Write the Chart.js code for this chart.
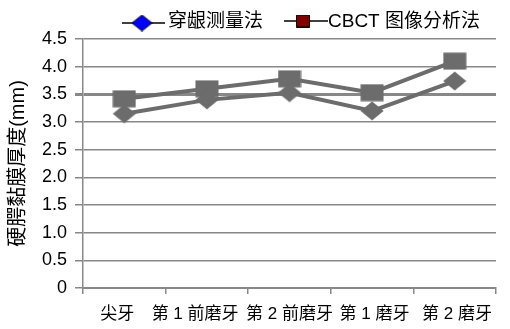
<!DOCTYPE html>
<html>
<head>
<meta charset="utf-8">
<script src="https://cdn.jsdelivr.net/npm/chart.js@4/dist/chart.umd.min.js"></script>
<style>
  html, body { margin: 0; padding: 0; background: #fff; }
  #wrap { width: 510px; height: 329px; }
</style>
</head>
<body>
<div id="wrap"><canvas id="grafico"></canvas></div>
<script>
// datos del grafico
const categorias = ["尖牙", "第 1 前磨牙", "第 2 前磨牙", "第 1 磨牙", "第 2 磨牙"];
const nombres = ["穿龈测量法", "CBCT 图像分析法"];
const valoresSonda = [3.15, 3.40, 3.53, 3.20, 3.74];
const valoresCbct = [3.42, 3.60, 3.78, 3.53, 4.10];
const ticksY = [0, 0.5, 1.0, 1.5, 2.0, 2.5, 3.0, 3.5, 4.0, 4.5];
const tituloY = "硬腭黏膜厚度(mm)";

const fuente = "'Liberation Sans', 'Noto Sans CJK SC', sans-serif";
const gris = "#6c6c6c";

// espacios para imitar el reparto de etiquetas del original
function etiqueta(texto, i) {
  if (i === 0) return texto + "   ";
  if (i === 1) return texto + "     ";
  if (i >= 3) return " " + texto;
  return texto;
}

// marcadores como imagen (mas anchos que altos, como en el original)
function marcador(tipo, ancho, alto, relleno, borde) {
  const c = document.createElement("canvas");
  c.width = ancho;
  c.height = alto;
  const ctx = c.getContext("2d");
  ctx.fillStyle = relleno;
  ctx.beginPath();
  if (tipo === "rombo") {
    ctx.moveTo(ancho / 2, 0.5);
    ctx.lineTo(ancho - 0.5, alto / 2);
    ctx.lineTo(ancho / 2, alto - 0.5);
    ctx.lineTo(0.5, alto / 2);
    ctx.closePath();
  } else {
    ctx.rect(0.5, 0.5, ancho - 1, alto - 1);
  }
  ctx.fill();
  if (borde) {
    ctx.strokeStyle = borde;
    ctx.lineWidth = 1;
    ctx.stroke();
  }
  return c;
}

// leyenda propia: linea negra + marcador de color
const leyenda = {
  id: "leyenda",
  afterDraw(chart) {
    const ctx = chart.ctx;
    const items = [
      { x1: 122, x2: 165, y: 23, img: marcador("rombo", 21, 17, "#0000ff", "#000"), mx: 142, texto: nombres[0], tx: 168 },
      { x1: 284, x2: 328, y: 21, img: marcador("cuadro", 14, 13, "#800000", "#000"), mx: 303, texto: nombres[1], tx: 328 }
    ];
    ctx.save();
    items.forEach((it) => {
      ctx.strokeStyle = "#000";
      ctx.lineWidth = 1.5;
      ctx.beginPath();
      ctx.moveTo(it.x1, it.y);
      ctx.lineTo(it.x2, it.y);
      ctx.stroke();
      ctx.drawImage(it.img, it.mx - it.img.width / 2, it.y - it.img.height / 2);
      ctx.fillStyle = "#000";
      ctx.font = "19px " + fuente;
      ctx.textBaseline = "middle";
      ctx.fillText(it.texto, it.tx, 22);
    });
    ctx.restore();
  }
};

const datos = {
  labels: categorias,
  datasets: [
    {
      label: nombres[0],
      data: valoresSonda,
      borderColor: gris,
      backgroundColor: gris,
      borderWidth: 4,
      pointStyle: marcador("rombo", 24, 20, gris),
      pointRadius: 10
    },
    {
      label: nombres[1],
      data: valoresCbct,
      borderColor: gris,
      backgroundColor: gris,
      borderWidth: 4,
      pointStyle: marcador("cuadro", 24, 18, gris),
      pointRadius: 10
    }
  ]
};

const config = {
  type: "line",
  data: datos,
  plugins: [leyenda],
  options: {
    responsive: true,
    maintainAspectRatio: false,
    animation: false,
    layout: { padding: { top: 39, right: 4, left: 0, bottom: 0 } },
    plugins: {
      legend: { display: false },
      tooltip: { enabled: false }
    },
    scales: {
      x: {
        offset: true,
        grid: {
          offset: true,
          drawOnChartArea: false,
          drawTicks: true,
          tickLength: 6,
          color: "#888",
          lineWidth: 1.5
        },
        border: { color: "#888", width: 2 },
        ticks: {
          color: "#000",
          font: { family: fuente, size: 17 },
          padding: 10,
          maxRotation: 0,
          autoSkip: false,
          callback(v, i) { return etiqueta(categorias[i], i); }
        },
        afterFit(scale) { scale.height = 41; }
      },
      y: {
        min: 0,
        max: 4.5,
        afterBuildTicks(scale) { scale.ticks = ticksY.map((v) => ({ value: v })); },
        grid: {
          color: "#888",
          lineWidth: (c) => (c.tick && c.tick.value === 3.5 ? 3 : 1.5),
          tickLength: 8
        },
        border: { color: "#888", width: 1.5 },
        ticks: {
          color: "#000",
          font: { family: fuente, size: 18 },
          padding: 8,
          callback: (v) => (v === 0 ? "0" : v.toFixed(1))
        },
        title: {
          display: true,
          text: tituloY,
          color: "#000",
          font: { family: fuente, size: 20 },
          padding: { top: 6, bottom: 0 }
        },
        afterFit(scale) { scale.width = 83; }
      }
    }
  }
};

new Chart(document.querySelector("#grafico"), config);
</script>
</body>
</html>
